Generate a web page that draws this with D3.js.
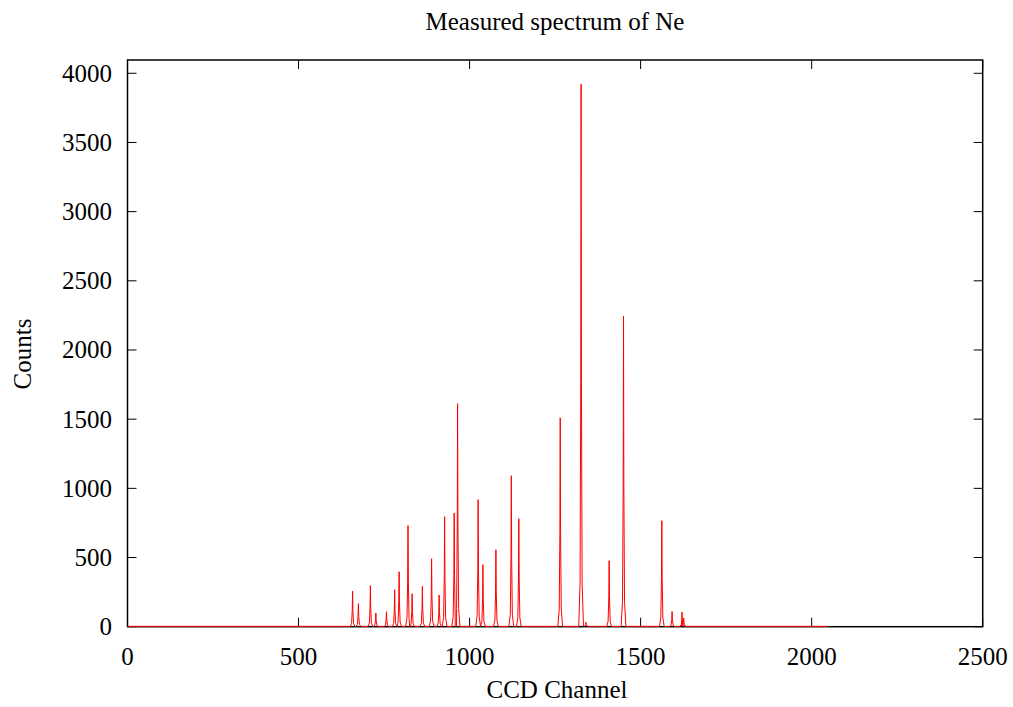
<!DOCTYPE html>
<html>
<head>
<meta charset="utf-8">
<script src="https://cdn.jsdelivr.net/npm/d3@7"></script>
<style>
  body { margin: 0; background: #fff; }
  svg text { font-family: "Liberation Serif", "DejaVu Serif", serif; fill: #000; }
</style>
</head>
<body>
<svg id="chart"></svg>
<script>
// 測定スペクトルのデータ（ピーク位置と高さ）
const peakChannels = [658, 675, 710, 726, 757, 781, 794, 820, 832, 862, 889, 911, 927, 955, 965,
  1025, 1039, 1077, 1122, 1144, 1265, 1326, 1340, 1408, 1450, 1562, 1592, 1621, 1626];
const peakCounts = [255, 164, 295, 97, 106, 265, 395, 728, 236, 289, 489, 227, 793, 820, 1610,
  916, 446, 554, 1089, 778, 1508, 3919, 30, 475, 2243, 764, 108, 104, 60];
const channelRange = [0, 2048];

const xTicks = [0, 500, 1000, 1500, 2000, 2500];
const yTicks = [0, 500, 1000, 1500, 2000, 2500, 3000, 3500, 4000];

// svg のサイズ
const width = 1013;
const height = 707;
const MARGINS = { top: 60, right: 30.3, bottom: 80.3, left: 127.5 };

const svg = d3.select("#chart").attr("width", width).attr("height", height);

const x = d3.scaleLinear().domain([0, 2500]).range([MARGINS.left, width - MARGINS.right]);
const y = d3.scaleLinear().domain([0, 4096]).range([height - MARGINS.bottom, MARGINS.top]);

// 枠と目盛り
const tickLen = 9;
const g = svg.append("g").attr("stroke", "#000").attr("stroke-width", 1);

xTicks.forEach(t => {
  g.append("line").attr("x1", x(t)).attr("x2", x(t))
    .attr("y1", y.range()[0]).attr("y2", y.range()[0] - tickLen);
  g.append("line").attr("x1", x(t)).attr("x2", x(t))
    .attr("y1", y.range()[1]).attr("y2", y.range()[1] + tickLen);
});
yTicks.forEach(t => {
  g.append("line").attr("x1", x.range()[0]).attr("x2", x.range()[0] + tickLen)
    .attr("y1", y(t)).attr("y2", y(t));
  g.append("line").attr("x1", x.range()[1]).attr("x2", x.range()[1] - tickLen)
    .attr("y1", y(t)).attr("y2", y(t));
});

svg.append("rect")
  .attr("x", x.range()[0]).attr("y", y.range()[1])
  .attr("width", x.range()[1] - x.range()[0])
  .attr("height", y.range()[0] - y.range()[1])
  .attr("fill", "none").attr("stroke", "#000").attr("stroke-width", 1.5);

// ピークの形（チャンネルのずれ, 高さの割合）
const profile = [[-7, 0], [-3, 0.08], [-1, 0.45], [0, 1], [1, 0.45], [3, 0.08], [7, 0]];

const points = [[channelRange[0], 0]];
peakChannels.forEach((c, i) => {
  profile.forEach(([dc, f]) => points.push([c + dc, peakCounts[i] * f]));
});
points.push([channelRange[1], 0]);
points.sort((a, b) => a[0] - b[0]);

svg.append("path")
  .datum(points)
  .attr("fill", "none")
  .attr("stroke", "#ff0000")
  .attr("stroke-width", 1)
  .attr("stroke-linejoin", "round")
  .attr("d", d3.line().x(d => x(d[0])).y(d => y(Math.max(0, d[1])) - 0.3));

const fontSize = 25;

svg.append("g").selectAll("text").data(xTicks).join("text")
  .attr("x", d => x(d)).attr("y", 665)
  .attr("text-anchor", "middle").attr("font-size", fontSize)
  .text(d => d);

svg.append("g").selectAll("text").data(yTicks).join("text")
  .attr("x", 112).attr("y", d => y(d) + 8.5)
  .attr("text-anchor", "end").attr("font-size", fontSize)
  .text(d => d);

svg.append("text").attr("x", 555).attr("y", 30)
  .attr("text-anchor", "middle").attr("font-size", fontSize)
  .text("Measured spectrum of Ne");

svg.append("text").attr("x", 557).attr("y", 698)
  .attr("text-anchor", "middle").attr("font-size", fontSize)
  .text("CCD Channel");

svg.append("text")
  .attr("transform", "translate(31, 354) rotate(-90)")
  .attr("text-anchor", "middle").attr("font-size", fontSize)
  .text("Counts");
</script>
</body>
</html>
